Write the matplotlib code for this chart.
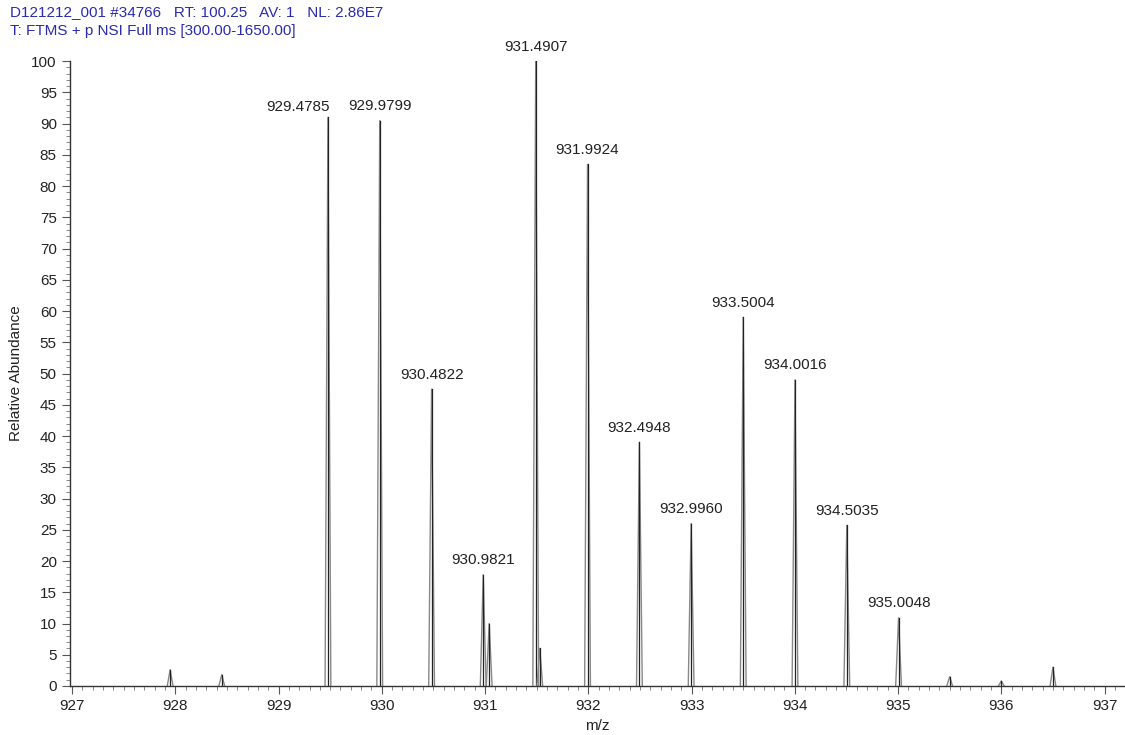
import matplotlib
matplotlib.use("Agg")
import matplotlib.pyplot as plt
from matplotlib.ticker import MultipleLocator

plt.rcParams["font.family"] = ["Liberation Sans", "DejaVu Sans"]

# centroid peaks
peak_mz = [927.95, 928.45, 929.4785, 929.9799, 930.4822, 930.9821, 931.04,
           931.4907, 931.53, 931.9924, 932.4948, 932.9960, 933.5004, 934.0016,
           934.5035, 935.0048, 935.50, 936.00, 936.50]
peak_int = [2.6, 1.8, 91.0, 90.5, 47.5, 17.8, 10.0,
            100.0, 6.0, 83.5, 39.0, 26.0, 59.0, 49.0,
            25.7, 10.9, 1.5, 0.8, 3.0]
labelled = ["929.4785", "929.9799", "930.4822", "930.9821", "931.4907", "931.9924",
            "932.4948", "932.9960", "933.5004", "934.0016", "934.5035", "935.0048"]

header1 = "D121212_001 #34766   RT: 100.25   AV: 1   NL: 2.86E7"
header2 = "T: FTMS + p NSI Full ms [300.00-1650.00]"

fig = plt.figure(figsize=(11.25, 7.35), dpi=100)
ax = fig.add_axes([0.0622, 0.0667, 0.938, 0.850])

half_w = 0.028
for mz, h in zip(peak_mz, peak_int):
    ax.plot([mz - half_w, mz, mz + half_w], [0, h, 0], color="#888888", lw=1.0)
    ax.plot([mz, mz], [0, h], color="#222222", lw=0.9)
    lab = "%.4f" % mz
    if lab in labelled:
        # the first label is pushed left so it does not run into its neighbour
        if lab == labelled[0]:
            ax.text(mz + 0.02, h + 0.6, lab, ha="right", va="bottom",
                    fontsize=11, color="#222222")
        else:
            ax.text(mz, h + 1.2, lab, ha="center", va="bottom",
                    fontsize=11, color="#222222")

ax.set_xlim(926.98, 937.2)
ax.set_ylim(0, 100)
ax.xaxis.set_major_locator(MultipleLocator(1))
ax.xaxis.set_minor_locator(MultipleLocator(0.1))
ax.yaxis.set_major_locator(MultipleLocator(5))
ax.yaxis.set_minor_locator(MultipleLocator(1))
for s in ["top", "right"]:
    ax.spines[s].set_visible(False)
for s in ["left", "bottom"]:
    ax.spines[s].set_color("#333333")
    ax.spines[s].set_linewidth(1.0)
ax.tick_params(which="major", length=6, color="#555555", labelsize=11, labelcolor="#222222")
ax.tick_params(which="minor", length=3, color="#777777")
ax.set_xlabel("m/z", fontsize=11, color="#222222", labelpad=4)
ax.set_ylabel("Relative Abundance", fontsize=11, color="#222222", labelpad=6)

fig.text(0.009, 0.993, header1, color="#2b2bb0", fontsize=11, va="top", ha="left")
fig.text(0.009, 0.968, header2, color="#2b2bb0", fontsize=11, va="top", ha="left")

fig.savefig("out.png", dpi=100)
